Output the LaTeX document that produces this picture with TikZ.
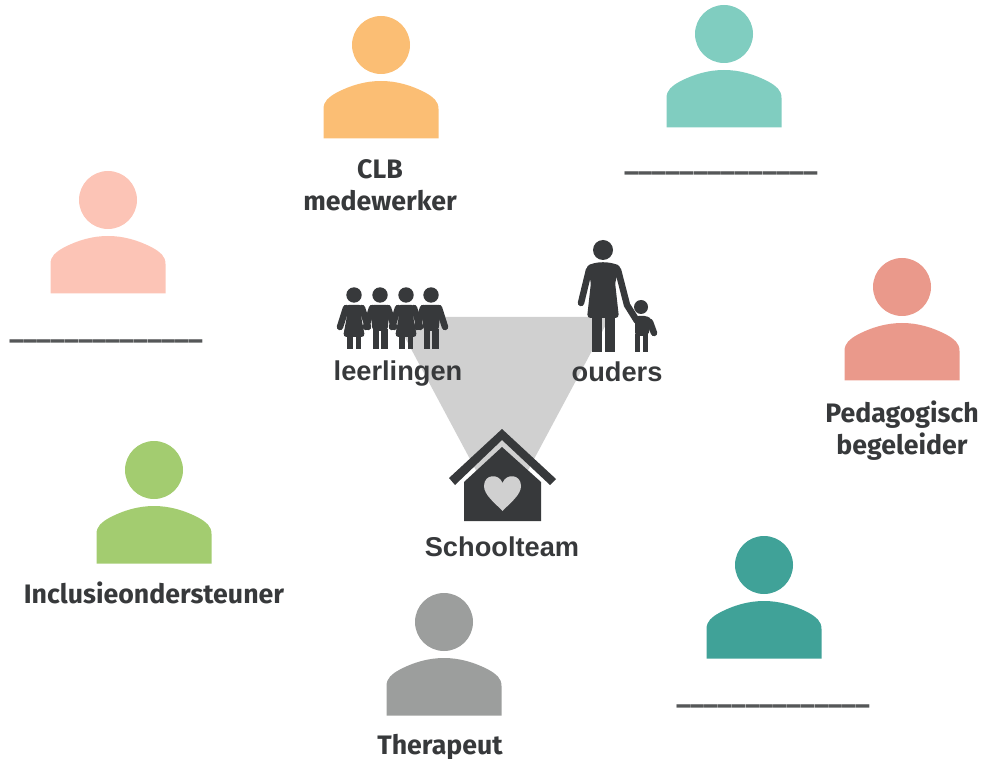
\documentclass[tikz,border=0pt]{standalone}
\usepackage{fontspec}
\setmainfont{Fira Sans}
\newfontfamily\arialfont{Liberation Sans}
\usepackage{xcolor}
\definecolor{ink}{HTML}{37393B}
\definecolor{funnelgray}{HTML}{D0D0D0}
\definecolor{clborange}{HTML}{FBBE74}
\definecolor{topteal}{HTML}{80CDC0}
\definecolor{leftpink}{HTML}{FCC4B6}
\definecolor{pedred}{HTML}{EA998B}
\definecolor{inclgreen}{HTML}{A3CC70}
\definecolor{thergray}{HTML}{9C9E9D}
\definecolor{lowteal}{HTML}{40A298}
\tikzset{
	rolelabel/.style = {text = ink, font = \fontsize{15.2}{18.2}\selectfont\bfseries, align = center, inner sep = 0pt},
	blanklabel/.style = {text = ink!85, font = \fontsize{15.4}{18}\selectfont\bfseries, inner sep = 0pt},
	grouplabel/.style = {text = ink, font = \fontsize{15.5}{18}\selectfont\arialfont\bfseries, inner sep = 0pt},
	limb/.style = {draw = ink, line width = .13cm, line cap = round}
}
% person: x of centre, y of head, colour
\newcommand{\person}[3]{
	\fill[#3] (#1,#2) circle (29);
	\fill[#3] (#1-57.5,#2+93.5) -- (#1-57.5,#2+64) .. controls (#1-57.5,#2+56) and (#1-52,#2+52) .. (#1-45,#2+48) .. controls (#1-30,#2+40) and (#1-15,#2+36) .. (#1,#2+36) .. controls (#1+15,#2+36) and (#1+30,#2+40) .. (#1+45,#2+48) .. controls (#1+52,#2+52) and (#1+57.5,#2+56) .. (#1+57.5,#2+64) -- (#1+57.5,#2+93.5) -- cycle;
}
\newcommand{\girl}[1]{
	\fill[ink] (#1,295) circle (7.7);
	\draw[limb] (#1-8,308) -- (#1-14,327);
	\draw[limb] (#1+8,308) -- (#1+14,327);
	\fill[ink, rounded corners = 2pt] (#1-9,305) -- (#1+9,305) -- (#1+7,316) -- (#1+11,337) -- (#1-11,337) -- (#1-7,316) -- cycle;
	\fill[ink] (#1-7,336) rectangle (#1-1.5,349);
	\fill[ink] (#1+1.5,336) rectangle (#1+7,349);
}
\newcommand{\boy}[1]{
	\fill[ink] (#1,295) circle (7.7);
	\draw[limb] (#1-8,308) -- (#1-14,327);
	\draw[limb] (#1+8,308) -- (#1+14,327);
	\fill[ink, rounded corners = 2pt] (#1-10,305) -- (#1+10,305) -- (#1+7.5,331) -- (#1-7.5,331) -- cycle;
	\fill[ink] (#1-7.5,329) rectangle (#1-.8,349);
	\fill[ink] (#1+.8,329) rectangle (#1+7.5,349);
}
\begin{document}
\begin{tikzpicture}[x = .02cm, y = -.02cm]
	\useasboundingbox (0,0) rectangle (982,759);
	% funnel
	\fill[funnelgray] (394,317) -- (610,317) -- (502,519) -- cycle;
	% people round the outside
	\person{381}{45}{clborange}
	\person{724}{34}{topteal}
	\person{108}{200}{leftpink}
	\person{902}{287}{pedred}
	\person{154}{470}{inclgreen}
	\person{444}{622}{thergray}
	\person{764}{565}{lowteal}
	% pupils
	\girl{354}
	\boy{380}
	\girl{406}
	\boy{431}
	% mother and child
	\fill[ink] (603,250) circle (10);
	\draw[limb] (589,270) -- (581,303);
	\draw[limb] (618,270) -- (627,305) -- (637,321);
	\fill[ink, rounded corners = 2pt] (586,266) -- (594,263) -- (603,262) -- (612,263) -- (621,266) -- (615,282) -- (619,318) -- (587,318) -- (591,282) -- cycle;
	\fill[ink] (592,316) rectangle (602,352);
	\fill[ink] (605,316) rectangle (615,352);
	\fill[ink] (641,307) circle (7);
	\draw[limb] (650,322) -- (654,333);
	\fill[ink, rounded corners = 2pt] (635,316) -- (648,316) -- (652,320) -- (648,336) -- (635,336) -- cycle;
	\fill[ink] (635,334) rectangle (640,352);
	\fill[ink] (643,334) rectangle (648,352);
	% house
	\fill[ink] (502,447) -- (541,482) -- (541,521) -- (464,521) -- (464,482) -- cycle;
	\fill[ink] (502,429) -- (556,479) -- (550,485) -- (502,440) -- (455,485) -- (449,478) -- cycle;
	\fill[funnelgray] (502.5,511) .. controls (495,503) and (484,495) .. (484,486) .. controls (484,474) and (499,473) .. (502.5,483) .. controls (506,473) and (521,474) .. (521,486) .. controls (521,495) and (510,503) .. (502.5,511) -- cycle;
	% labels
	\node[grouplabel] (leerlingen) at (398,374) {leerlingen};
	\node[grouplabel] (ouders) at (617,372) {ouders};
	\node[grouplabel] (schoolteam) at (502,547) {Schoolteam};
	\node[rolelabel] (clb) at (380,185) {CLB\\medewerker};
	\node[rolelabel] (ped) at (902,431) {Pedagogisch\\begeleider};
	\node[rolelabel] (incl) at (154,593) {Inclusieondersteuner};
	\node[rolelabel] (ther) at (440,747) {Therapeut};
	\node[blanklabel] (blanktop) at (721,173) {\_\_\_\_\_\_\_\_\_\_\_\_\_\_};
	\node[blanklabel] (blankleft) at (106,341) {\_\_\_\_\_\_\_\_\_\_\_\_\_\_};
	\node[blanklabel] (blanklow) at (773,706) {\_\_\_\_\_\_\_\_\_\_\_\_\_\_};
\end{tikzpicture}
\end{document}
